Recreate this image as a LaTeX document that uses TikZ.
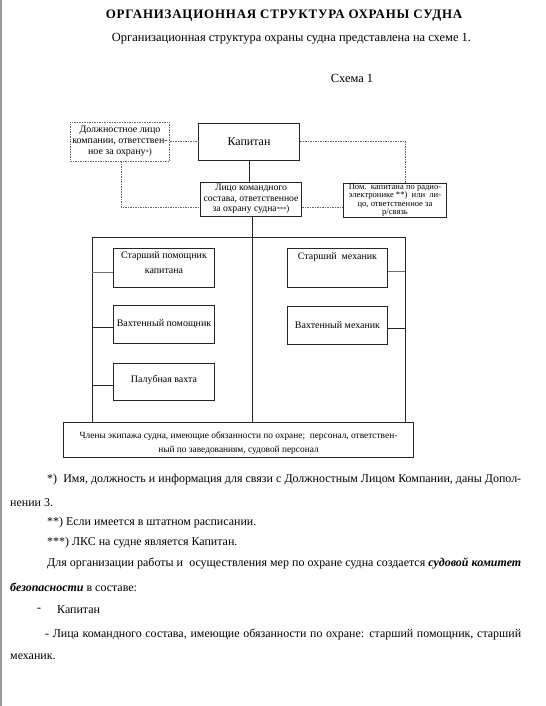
\documentclass[tikz,border=0pt]{standalone}
\usepackage{fontspec}
\setmainfont{Liberation Serif}
\usetikzlibrary{calc}
\tikzset{
  box/.style={draw=black!85, line width=0.7bp, inner sep=0.5bp, align=center, font=\fontsize{10}{11}\selectfont},
  dbox/.style={box, draw=black!60, dash pattern=on 1.5bp off 1bp},
  link/.style={draw=black!85, line width=0.7bp},
  glink/.style={draw=black!55, line width=0.9bp},
  dlink/.style={draw=black!60, line width=0.6bp, dash pattern=on 1.5bp off 1bp},
  txt/.style={anchor=west, inner sep=0pt, font=\fontsize{12}{14}\selectfont},
  botlbl/.style={align=center, inner sep=0pt, font=\fontsize{9.4}{14}\selectfont, yshift=-3.5bp},
}
\begin{document}
\begin{tikzpicture}[x=1bp,y=-1bp]
\useasboundingbox[fill=white] (0,0) rectangle (546,706);
\draw[black!40, line width=1.5bp] (1,0) -- (1,706);

% headings
\node[inner sep=0pt, font=\fontsize{13}{15}\selectfont\bfseries\addfontfeatures{LetterSpace=6}] (title) at (284,16) {ОРГАНИЗАЦИОННАЯ СТРУКТУРА ОХРАНЫ СУДНА};
\node[inner sep=0pt, font=\fontsize{12.5}{14}\selectfont] (sub) at (291.5,39) {Организационная структура охраны судна представлена на схеме 1.};
\node[inner sep=0pt, font=\fontsize{12.5}{14}\selectfont] (schema) at (352,78) {Схема 1};

% top boxes
\node[dbox, minimum width=100, minimum height=39, font=\fontsize{10}{11.3}\selectfont] (ld) at (120,141.5) {Должностное лицо\\компании, ответствен-\\ное за охрану{\fontsize{6.5}{7}\selectfont*}{\fontsize{9}{9}\selectfont)}};
\node[box, minimum width=102, minimum height=37, font=\fontsize{12}{13}\selectfont] (kap) at (249,141.5) {Капитан};
\node[box, minimum width=102, minimum height=34, font=\fontsize{9.7}{10.6}\selectfont] (lks) at (251,199) {Лицо командного\\состава, ответственное\\за охрану судна{\fontsize{6.5}{7}\selectfont***}{\fontsize{9}{9}\selectfont)}};
\node[box, minimum width=104, minimum height=34, inner sep=0pt, font=\fontsize{8.6}{8.3}\selectfont] (pom) at (395,200) {Пом.\ \ капитана по радио-\\электронике **)\ \ или\ \ ли-\\цо, ответственное за\\р/связь};

% left column
\node[box, minimum width=102, minimum height=39, text depth=10bp, font=\fontsize{10}{15}\selectfont] (sp) at (164,267.5) {Старший помощник\\капитана};
\node[box, minimum width=102, minimum height=38] (vp) at (164,324) {Вахтенный помощник};
\node[box, minimum width=102, minimum height=37, text depth=5bp] (pv) at (164,381.5) {Палубная вахта};

% right column
\node[box, minimum width=101, minimum height=39, text depth=23bp] (sm) at (337.5,267.5) {Старший\ \ механик};
\node[box, minimum width=101, minimum height=38] (vm) at (337.5,325) {Вахтенный механик};

% bottom box
\node[box, minimum width=351, minimum height=35, label={[botlbl]center:{Члены экипажа судна, имеющие обязанности по охране;\ \ персонал, ответствен-\\ный по заведованиям, судовой персонал}}] (bot) at (238.5,439.5) {};

% frame lines
\coordinate (hl) at (92,237);
\coordinate (hr) at (405,237);
\coordinate (pk) at (405,141);
\draw[link] (hl) -- (hr);
\draw[link] (hl) -- (hl |- bot.north);
\draw[link] (hr) -- (hr |- bot.north);
\draw[link] (kap.south) -- (kap.south |- lks.north);
\draw[link] ([xshift=1]lks.south) -- ([xshift=1]lks.south |- bot.north);

\draw[glink] ([yshift=-4.5]hl |- sp.west) -- ([yshift=-4.5]sp.west);
\draw[link] ([yshift=-3]hl |- vp.west) -- ([yshift=-3]vp.west);
\draw[link] ([yshift=-3.5]hl |- pv.west) -- ([yshift=-3.5]pv.west);
\draw[glink] ([yshift=-3.5]sm.east) -- ([yshift=-3.5]hr |- sm.east);
\draw[link] ([yshift=-3]vm.east) -- ([yshift=-3]hr |- vm.east);

% dashed links
\draw[dlink] (ld.east) -- (kap.west);
\draw[dlink] (kap.east |- pk) -- (pk) -- (pk |- pom.north);
\draw[dlink] ([xshift=1]ld.south) |- ([yshift=-8]lks.west);
\draw[dlink] ([yshift=-8]lks.east) -- ([yshift=-8]lks.east -| pom.west);

% text below
\node[txt] (f1) at (47,480) {\makebox[474bp][s]{*)\ \ Имя, должность и информация для связи с Должностным Лицом Компании, даны Допол-}};
\node[txt] (f1b) at (10,503) {нении 3.};
\node[txt] (f2) at (47,523) {**) Если имеется в штатном расписании.};
\node[txt] (f3) at (47,543) {***) ЛКС на судне является Капитан.};
\node[txt] (p1) at (47,563) {\makebox[474bp][s]{Для организации работы и\ \ осуществления мер по охране судна создается \textbf{\textit{судовой комитет}}}};
\node[txt] (p1b) at (10,587) {\textbf{\textit{безопасности}} в составе:};
\node[txt] (d1) at (37,610) {-};
\node[txt] (d1b) at (57,610) {Капитан};
\node[txt] (d2) at (45,634) {\makebox[476bp][s]{- Лица командного состава, имеющие обязанности по охране: старший помощник, старший}};
\node[txt] (d2b) at (10,657) {механик.};
\end{tikzpicture}
\end{document}
